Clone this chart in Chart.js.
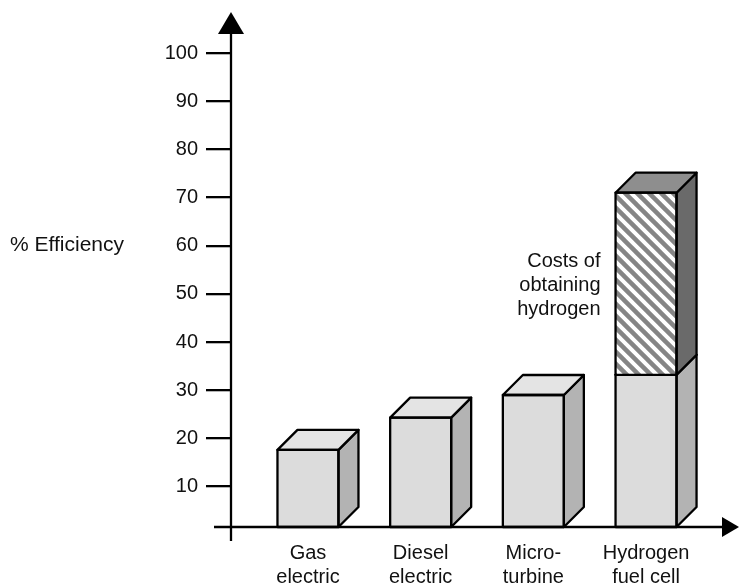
<!DOCTYPE html>
<html><head><meta charset="utf-8">
<script src="https://cdn.jsdelivr.net/npm/chart.js@4.4.1/dist/chart.umd.min.js"></script>
<style>html,body{margin:0;padding:0;background:#fff;}</style>
</head><body>
<canvas id="c" width="739" height="587"></canvas>
<script>
// ---- data ----
const categories = [["Gas","electric"],["Diesel","electric"],["Micro-","turbine"],["Hydrogen","fuel cell"]];
const efficiency = [17.6, 24.3, 29.0, 33.2];
const hydrogenIndex = 3;
const hydrogenCostRange = [33.2, 71.0];
const yTickValues = [10,20,30,40,50,60,70,80,90,100];
const yAxisTitle = "% Efficiency";
const costLabel = ["Costs of","obtaining","hydrogen"];

// ---- style ----
const FONT = '"Liberation Sans", Arial, Helvetica, sans-serif';
const yMin = 1.6, yMax = 100;
const depth = 20;

const canvas = document.getElementById('c');
const mainCtx = canvas.getContext('2d');
function makeHatch(){
  const p = document.createElement('canvas');
  p.width = 12; p.height = 12;
  const g = p.getContext('2d');
  g.fillStyle = '#ffffff'; g.fillRect(0,0,12,12);
  g.strokeStyle = '#858585'; g.lineWidth = 4.5;
  for (let k=-1;k<=1;k++){ g.beginPath(); g.moveTo(k*12-2,-2); g.lineTo(k*12+14,14); g.stroke(); }
  return mainCtx.createPattern(p,'repeat');
}

const cubePlugin = {
  id: 'cube',
  afterDatasetDraw(chart, args){
    const ds = chart.data.datasets[args.index];
    const ctx = chart.ctx;
    const ca = chart.chartArea;
    args.meta.data.forEach(el => {
      const p = el.getProps(['x','y','base','width'], true);
      const l = p.x - p.width/2, r = p.x + p.width/2;
      const t = Math.min(p.y, p.base), b = Math.min(Math.max(p.y, p.base), ca.bottom);
      ctx.save();
      ctx.lineWidth = 2.3; ctx.strokeStyle = '#000'; ctx.lineJoin = 'round'; ctx.lineCap = 'round';
      ctx.beginPath(); ctx.moveTo(r,t); ctx.lineTo(r+depth,t-depth); ctx.lineTo(r+depth,b-depth); ctx.lineTo(r,b); ctx.closePath();
      ctx.fillStyle = ds.sideColor; ctx.fill(); ctx.stroke();
      ctx.beginPath(); ctx.moveTo(l,t); ctx.lineTo(l+depth,t-depth); ctx.lineTo(r+depth,t-depth); ctx.lineTo(r,t); ctx.closePath();
      ctx.fillStyle = ds.topColor; ctx.fill(); ctx.stroke();
      ctx.strokeRect(l, t, r-l, b-t);
      ctx.restore();
    });
  },
  afterDraw(chart){
    const ctx = chart.ctx, ca = chart.chartArea;
    ctx.save();
    ctx.strokeStyle = '#000'; ctx.fillStyle = '#000'; ctx.lineWidth = 2.3;
    ctx.beginPath(); ctx.moveTo(ca.left, ca.bottom+14); ctx.lineTo(ca.left, ca.top-20); ctx.stroke();
    ctx.beginPath(); ctx.moveTo(ca.left, ca.top-41); ctx.lineTo(ca.left+13, ca.top-19); ctx.lineTo(ca.left-13, ca.top-19); ctx.closePath(); ctx.fill();
    ctx.beginPath(); ctx.moveTo(ca.left-17, ca.bottom); ctx.lineTo(ca.right+1, ca.bottom); ctx.stroke();
    ctx.beginPath(); ctx.moveTo(ca.right+17, ca.bottom); ctx.lineTo(ca.right, ca.bottom-10); ctx.lineTo(ca.right, ca.bottom+10); ctx.closePath(); ctx.fill();
    ctx.font = '21px ' + FONT;
    ctx.fillStyle = '#111';
    ctx.textBaseline = 'middle'; ctx.textAlign = 'left';
    ctx.fillText(yAxisTitle, 10, chart.scales.y.getPixelForValue(60));
    const costMeta = chart.getDatasetMeta(0);
    const el = costMeta.data[0];
    if (el){
      const p = el.getProps(['x','y','base','width'], true);
      const l = p.x - p.width/2;
      const mid = (p.y + p.base)/2 + 2;
      ctx.font = '20px ' + FONT;
      ctx.textAlign = 'right';
      costLabel.forEach((s,i) => ctx.fillText(s, l-15, mid + (i-1)*24));
    }
    ctx.restore();
  }
};

Chart.defaults.font.family = FONT;
Chart.defaults.color = '#111';

new Chart(canvas, {
  type: 'bar',
  data: {
    datasets: [
      {
        label: 'Costs of obtaining hydrogen',
        data: [{x: hydrogenIndex, y: hydrogenCostRange}],
        backgroundColor: makeHatch(),
        borderWidth: 0,
        topColor: '#8e8e8e', sideColor: '#6a6a6a',
        grouped: false, barThickness: 61, order: 1
      },
      {
        label: '% Efficiency',
        data: efficiency.map((v,i) => ({x: i, y: v})),
        backgroundColor: '#dcdcdc',
        borderWidth: 0,
        base: yMin,
        topColor: '#e4e4e4', sideColor: '#b3b3b3',
        grouped: false, barThickness: 61, order: 2
      }
    ]
  },
  options: {
    responsive: false,
    animation: false,
    devicePixelRatio: 1,
    layout: { padding: { top: 53, right: 17, bottom: 0, left: 0 } },
    plugins: { legend: { display: false }, tooltip: { enabled: false } },
    scales: {
      x: {
        type: 'linear', min: -0.683, max: 3.674, offset: false,
        afterBuildTicks: s => { s.ticks = categories.map((c,i) => ({value: i})); },
        afterFit: s => { s.height = 60; },
        grid: { display: false, drawTicks: false, offset: false },
        border: { display: false },
        ticks: {
          autoSkip: false, maxRotation: 0, padding: 14,
          font: { size: 20, lineHeight: 1.2 },
          callback: v => categories[v]
        }
      },
      y: {
        type: 'linear', min: yMin, max: yMax,
        afterBuildTicks: s => { s.ticks = yTickValues.map(v => ({value: v})); },
        afterFit: s => { s.width = 231; },
        grid: { drawOnChartArea: false, drawTicks: true, tickLength: 25, lineWidth: 2.3, color: '#000' },
        border: { display: false },
        ticks: { padding: 8, font: { size: 20 } }
      }
    }
  },
  plugins: [cubePlugin]
});
</script>
</body></html>
